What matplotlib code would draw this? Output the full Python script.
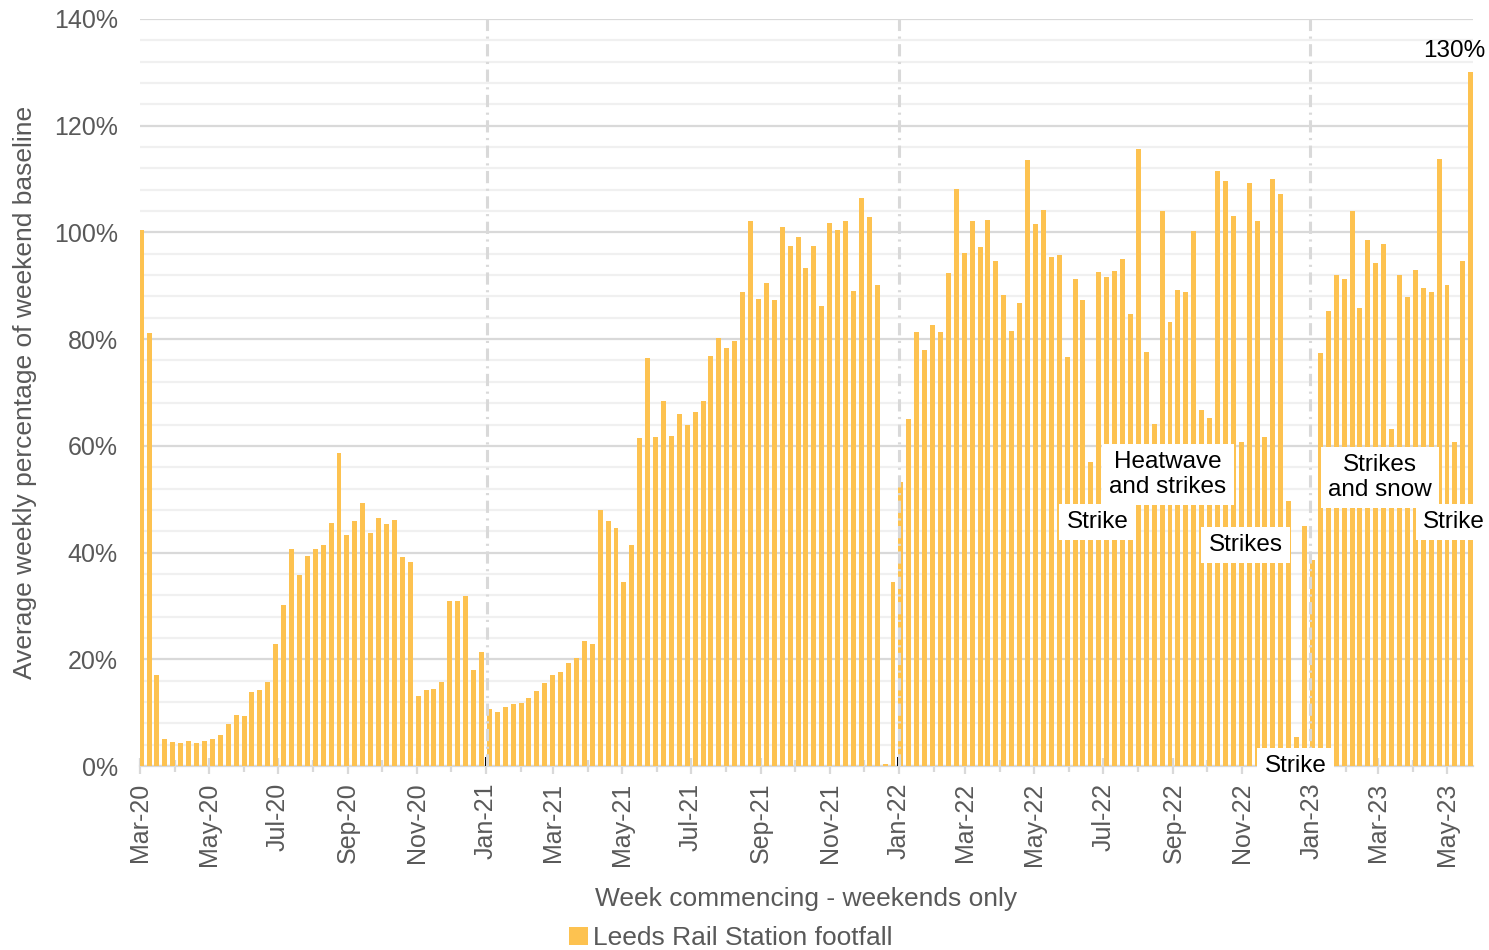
import numpy as np
import pandas as pd
import matplotlib
matplotlib.use('Agg')
import matplotlib.pyplot as plt
import matplotlib.dates as mdates
from matplotlib.ticker import MultipleLocator, PercentFormatter

plt.rcParams['font.family'] = ['Liberation Sans', 'DejaVu Sans']

# weekly footfall, % of weekend baseline (week commencing Mondays from 2 Mar 2020)
first_week = '2020-03-02'
footfall = [
    100.5, 81.1, 17.1, 5.0, 4.5, 4.3, 4.6, 4.4, 4.7, 5.0,
    5.8, 7.9, 9.5, 9.3, 13.9, 14.2, 15.8, 22.9, 30.1, 40.7,
    35.8, 39.4, 40.6, 41.5, 45.5, 58.7, 43.2, 45.9, 49.2, 43.7,
    46.4, 45.4, 46.1, 39.1, 38.3, 13.1, 14.3, 14.5, 15.8, 31.0,
    31.0, 31.9, 18.0, 21.3, 10.6, 10.2, 11.0, 11.6, 11.8, 12.8,
    14.1, 15.6, 17.1, 17.7, 19.3, 20.3, 23.4, 22.9, 47.9, 45.9,
    44.6, 34.4, 41.5, 61.5, 76.4, 61.7, 68.5, 61.9, 66.0, 63.9,
    66.3, 68.4, 76.8, 80.2, 78.4, 79.6, 88.8, 102.1, 87.5, 90.6,
    87.3, 101.1, 97.4, 99.1, 93.4, 97.4, 86.2, 101.7, 100.4, 102.1,
    89.0, 106.5, 102.8, 90.2, 0.4, 34.4, 53.2, 65.1, 81.3, 77.9,
    82.7, 81.3, 92.4, 108.2, 96.1, 102.1, 97.3, 102.4, 94.6, 88.3,
    81.5, 86.8, 113.6, 101.6, 104.2, 95.4, 95.7, 76.6, 91.3, 87.3,
    57.0, 92.5, 91.7, 92.7, 95.0, 84.8, 115.7, 77.6, 64.1, 104.0,
    83.3, 89.3, 88.9, 100.2, 66.8, 65.2, 111.5, 109.7, 103.1, 60.8,
    109.3, 102.1, 61.6, 110.0, 107.2, 49.7, 5.5, 45.0, 38.6, 77.4,
    85.3, 92.1, 91.2, 104.0, 85.8, 98.6, 94.3, 97.9, 63.1, 92.1,
    87.9, 92.9, 89.5, 88.8, 113.8, 90.2, 60.7, 94.7, 130.0,
]
weeks = pd.date_range(first_week, periods=len(footfall), freq='7D')

# first week of each new year (black marker + dashed divider)
year_starts = pd.to_datetime(['2021-01-02', '2022-01-01', '2022-12-31'])
year_marks = [1.6, 1.6, 1.6]

# annotation labels: (text, date, value)
notes = [
    ('Heatwave\nand strikes', '2022-08-27', 54.6),
    ('Strike', '2022-06-26', 45.7),
    ('Strikes', '2022-11-04', 41.4),
    ('Strike', '2022-12-18', 0.0),
    ('Strikes\nand snow', '2023-03-03', 54.1),
    ('Strike', '2023-05-07', 45.7),
]
peak_label_pos = ('2023-05-07', 134.0)

bar_col = '#FDC250'
grey_txt = '#595959'

fig = plt.figure(figsize=(14.89, 9.5), dpi=100)
ax = fig.add_axes([140/1489, 1 - 766/950, 1333/1489, 747/950])

ax.bar(weeks, footfall, width=4.4, color=bar_col, zorder=3, label='Leeds Rail Station footfall')
ax.bar(year_starts, year_marks, width=3.5, color='black', zorder=4)
for d in year_starts:
    ax.axvline(d, color='#D9D9D9', lw=2.2, ls=(0, (4, 1.8, 0.7, 1.8)), zorder=5)

ax.set_ylim(0, 140)
ax.set_xlim(pd.Timestamp('2020-03-01'), pd.Timestamp('2023-05-24'))

ax.yaxis.set_major_locator(MultipleLocator(20))
ax.yaxis.set_minor_locator(MultipleLocator(4))
ax.yaxis.set_major_formatter(PercentFormatter(decimals=0))
ax.grid(axis='y', which='major', color='#D9D9D9', lw=1.6, zorder=0)
ax.grid(axis='y', which='minor', color='#F0F0F0', lw=1.6, zorder=0)
ax.set_axisbelow(True)

ax.xaxis.set_major_locator(mdates.MonthLocator(bymonth=[1, 3, 5, 7, 9, 11]))
ax.xaxis.set_minor_locator(mdates.MonthLocator())
ax.xaxis.set_major_formatter(mdates.DateFormatter('%b-%y'))

for s in ['top', 'right', 'left']:
    ax.spines[s].set_visible(False)
ax.spines['bottom'].set_color('#D9D9D9')
ax.spines['bottom'].set_linewidth(1.6)

ax.tick_params(axis='y', which='both', length=0, pad=16, labelsize=18, labelcolor=grey_txt)
ax.tick_params(axis='x', which='major', direction='inout', length=12, width=1.6, color='#D9D9D9',
               pad=6, labelsize=18, labelcolor=grey_txt, labelrotation=90)
ax.tick_params(axis='x', which='minor', direction='inout', length=8, width=1.6, color='#D9D9D9')

ax.set_ylabel('Average weekly percentage of weekend baseline', fontsize=19, color=grey_txt)
ax.yaxis.set_label_coords(-0.077, 0.5)
ax.set_xlabel('Week commencing - weekends only', fontsize=19, color=grey_txt)
ax.xaxis.set_label_coords(0.5, -0.162)

for txt, d, v in notes:
    ax.text(pd.Timestamp(d), v, txt, ha='center', va='center', fontsize=17.5, color='black',
            linespacing=1.15, zorder=6,
            bbox=dict(boxstyle='square,pad=0.3', fc='white', ec='none'))

ax.text(pd.Timestamp(peak_label_pos[0]), peak_label_pos[1], '%d%%' % round(footfall[-1]),
        ha='center', va='center', fontsize=17.5, color='black', zorder=6)

fig.legend(handles=[ax.containers[0]], labels=['Leeds Rail Station footfall'],
           loc='center', bbox_to_anchor=(731/1489, 1 - 938/950), frameon=False,
           fontsize=19, handlelength=0.7, handleheight=0.7, handletextpad=0.2,
           labelcolor=grey_txt)

fig.savefig('out.png', dpi=100)
